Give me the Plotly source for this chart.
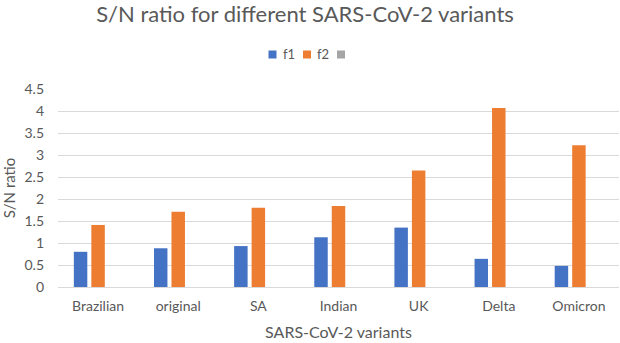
import plotly.graph_objects as go

categories = ["Brazilian", "original", "SA", "Indian", "UK", "Delta", "Omicron"]
f1 = [0.80, 0.88, 0.93, 1.13, 1.35, 0.64, 0.48]
f2 = [1.41, 1.71, 1.80, 1.84, 2.65, 4.07, 3.22]
f3 = [None] * 7
series_names = ["f1", "f2", ""]
series_colors = ["#4472C4", "#ED7D31", "#A5A5A5"]
y_ticks = [0, 0.5, 1, 1.5, 2, 2.5, 3, 3.5, 4, 4.5]
y_tick_labels = ["0", "0.5", "1", "1.5", "2", "2.5", "3", "3.5", "4", "4.5"]

FONT = "Lato"
TXT = "#595959"
W, H = 620, 343
ML, MR, MT, MB = 58, 1, 89, 56
PW, PH = W - ML - MR, H - MT - MB

fig = go.Figure()
for name, vals, col in zip(series_names, [f1, f2, f3], series_colors):
    fig.add_trace(go.Bar(x=categories, y=vals, name=name, showlegend=False,
                         marker=dict(color=col, line=dict(width=0))))

# legend row (swatch + label), positioned in pixels then converted to paper coords
def px_x(x):
    return (x - ML) / PW

def px_y(y):
    return (H - MB - y) / PH

leg_y = 54.5
swatch_cx = [272.5, 307, 341]
shapes, annotations = [], []
for cx, name, col in zip(swatch_cx, series_names, series_colors):
    shapes.append(dict(type="rect", xref="paper", yref="paper",
                       x0=px_x(cx - 4), x1=px_x(cx + 4), y0=px_y(leg_y + 4), y1=px_y(leg_y - 4),
                       fillcolor=col, line=dict(width=0)))
    if name:
        annotations.append(dict(text=name, xref="paper", yref="paper", x=px_x(cx + 8), y=px_y(leg_y),
                                xanchor="left", yanchor="middle", showarrow=False,
                                font=dict(size=13, color=TXT, family=FONT)))

fig.update_layout(
    width=W, height=H,
    margin=dict(l=ML, r=MR, t=MT, b=MB),
    paper_bgcolor="white", plot_bgcolor="white",
    font=dict(family=FONT, color=TXT, size=14),
    title=dict(text="S/N ratio for different SARS-CoV-2 variants", x=305 / W, xanchor="center",
               y=1 - 14.5 / H, yanchor="middle", font=dict(size=22, color=TXT, family=FONT)),
    barmode="group", bargap=0.345, bargroupgap=0.23,
    showlegend=False,
    shapes=shapes, annotations=annotations,
    xaxis=dict(title=dict(text="SARS-CoV-2 variants", font=dict(size=16, color=TXT), standoff=13),
               showgrid=False, showline=False, ticks="", tickfont=dict(size=14, color=TXT),
               ticklabelstandoff=9, automargin=False),
    yaxis=dict(title=dict(text="S/N ratio", font=dict(size=15, color=TXT), standoff=11),
               range=[0, 4.5], tickvals=y_ticks, ticktext=y_tick_labels,
               showgrid=True, gridcolor="#D9D9D9", gridwidth=1,
               zeroline=True, zerolinecolor="#D9D9D9", zerolinewidth=1,
               showline=False, ticks="", tickfont=dict(size=14, color=TXT),
               ticklabelstandoff=13, automargin=False),
)

fig.write_html("out.html", config={"displayModeBar": False},
               post_script="document.body.style.margin='0';")
